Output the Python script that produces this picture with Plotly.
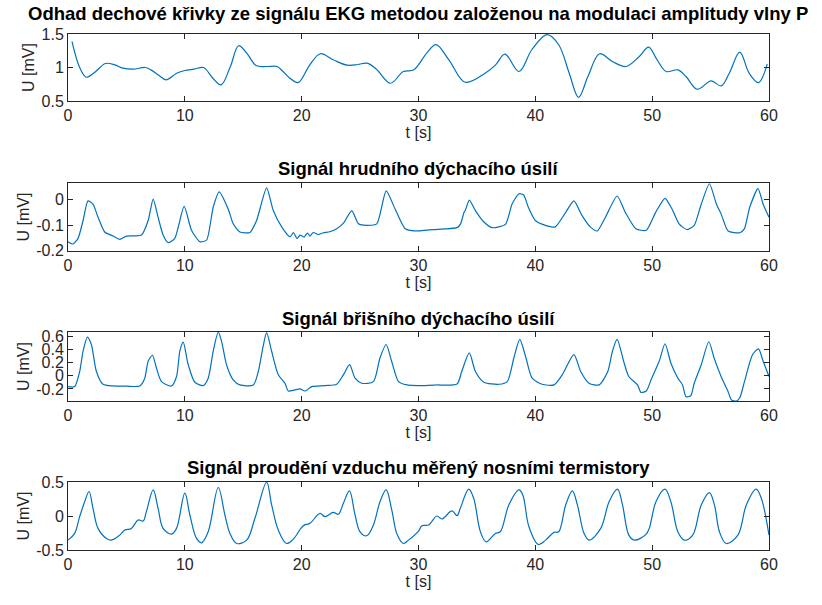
import plotly.graph_objects as go

# --- data -----------------------------------------------------------------
# Respiration estimate from ECG (P-wave amplitude modulation)
t_ekg = [0.34, 1.0, 1.57, 2.3, 3.2, 4.0, 4.7, 5.6, 6.6, 7.1, 7.8, 8.4, 9.3, 10.0, 10.8, 11.6,
         12.4, 13.1, 13.9, 14.6, 15.3, 16.1, 17.0, 17.9, 18.4, 19.0, 19.7, 20.7, 21.6, 22.7,
         23.9, 24.8, 25.6, 26.4, 27.6, 28.7, 29.6, 30.7, 31.5, 32.6, 34.0, 35.7, 36.6, 37.4,
         38.6, 39.7, 41.0, 42.0, 42.9, 43.7, 44.5, 45.5, 46.6, 47.75, 48.9, 49.7, 50.4, 51.2,
         52.2, 52.9, 53.85, 55.05, 55.9, 56.6, 57.5, 58.3, 59.1, 59.85]
u_ekg = [1.39, 1.0, 0.855, 0.93, 1.06, 1.04, 0.99, 0.975, 1.0, 0.965, 0.88, 0.815, 0.915, 0.955,
         0.975, 1.0, 0.84, 0.74, 1.015, 1.325, 1.215, 1.03, 1.015, 1.015, 0.94, 0.84, 0.775,
         1.04, 1.205, 1.115, 1.035, 1.045, 1.065, 0.975, 0.765, 0.94, 0.965, 1.215, 1.34, 1.115,
         0.78, 0.915, 1.04, 1.2, 0.94, 1.265, 1.49, 1.34, 0.915, 0.555, 0.865, 1.205, 1.09,
         1.015, 1.165, 1.305, 1.12, 0.94, 0.965, 0.865, 0.675, 0.8, 0.725, 0.915, 1.23, 0.915,
         0.775, 1.05]

# Thoracic respiratory effort
t_hrud = [0, 0.43, 0.86, 1.29, 1.71, 2.14, 2.57, 3.14, 3.86, 4.43, 5.0, 5.7, 6.29, 6.86, 7.29,
          7.71, 8.14, 8.57, 9.14, 9.94, 10.57, 11.29, 11.86, 12.43, 12.94, 13.71, 14.14, 14.71,
          15.57, 16.14, 17.0, 17.57, 18.29, 19.0, 19.3, 19.6, 19.86, 20.2, 20.5, 20.7, 21.0,
          21.4, 21.86, 22.4, 23.0, 23.6, 24.29, 24.86, 25.57, 26.43, 27.23, 28.0, 28.86, 30.0,
          31.1, 32.2, 33.3, 33.6, 33.9, 34.0, 34.35, 34.87, 35.6, 36.3, 37.44, 38.0, 38.6, 39.0,
          39.4, 40.0, 40.86, 41.7, 42.6, 43.3, 44.0, 44.7, 45.3, 46.0, 47.0, 47.7, 48.6, 49.5,
          50.3, 51.1, 51.7, 52.3, 53.0, 53.6, 54.2, 54.9, 55.5, 55.9, 56.5, 57.5, 57.9, 58.35,
          59.06, 59.5, 60.0]
u_hrud = [-0.164, -0.173, -0.151, -0.081, -0.004, -0.017, -0.068, -0.126, -0.142, -0.155,
          -0.142, -0.141, -0.138, -0.081, 0.003, -0.068, -0.138, -0.168, -0.151, -0.026,
          -0.119, -0.164, -0.158, -0.029, 0.031, -0.036, -0.094, -0.126, -0.128, -0.081,
          0.047, -0.042, -0.106, -0.145, -0.128, -0.152, -0.138, -0.146, -0.13, -0.142,
          -0.128, -0.136, -0.129, -0.125, -0.113, -0.09, -0.042, -0.094, -0.1, -0.094,
          0.035, -0.036, -0.113, -0.122, -0.117, -0.114, -0.109, -0.094, -0.049, -0.042,
          -0.001, -0.042, -0.087, -0.109, -0.096, -0.017, 0.024, 0.019, -0.029, -0.081,
          -0.1, -0.106, -0.049, -0.004, -0.062, -0.106, -0.122, -0.068, 0.015, -0.049,
          -0.113, -0.119, -0.049, 0.006, -0.036, -0.094, -0.117, -0.1, -0.017, 0.063,
          -0.017, -0.055, -0.122, -0.129, -0.113, -0.029, 0.044, -0.017, -0.068]

# Abdominal respiratory effort
t_bris = [0, 0.57, 1.0, 1.29, 1.66, 2.0, 2.43, 3.0, 3.86, 5.0, 6.14, 6.57, 6.86, 7.23, 7.57,
          8.0, 8.86, 9.29, 9.57, 9.86, 10.29, 10.86, 11.57, 12.0, 12.43, 12.86, 13.14, 13.57,
          14.14, 14.71, 15.86, 16.29, 16.7, 17.0, 17.43, 18.0, 18.57, 18.86, 19.4, 19.86,
          20.3, 20.86, 22.0, 23.0, 23.57, 24.1, 24.57, 25.14, 26.14, 26.7, 27.23, 27.7, 28.29,
          29.0, 30.0, 31.5, 33.3, 33.7, 34.35, 34.87, 35.6, 36.9, 37.6, 38.16, 38.67, 39.16,
          39.73, 40.57, 41.6, 42.3, 43.3, 43.88, 44.6, 45.46, 46.2, 46.6, 47.0, 47.6, 48.0,
          48.75, 49.04, 49.5, 49.9, 50.6, 51.1, 51.6, 52.2, 52.6, 52.9, 53.3, 53.6, 54.2,
          54.85, 55.3, 55.9, 56.5, 56.8, 57.2, 57.5, 57.9, 58.6, 59.1, 59.5, 60.0]
u_bris = [-0.165, -0.165, 0.067, 0.376, 0.593, 0.479, 0.067, -0.129, -0.155, -0.158, -0.155,
          -0.036, 0.222, 0.314, 0.119, -0.088, -0.155, -0.01, 0.376, 0.515, 0.17, -0.098,
          -0.149, -0.036, 0.376, 0.67, 0.531, 0.17, -0.062, -0.139, -0.139, 0.067, 0.45,
          0.66, 0.376, 0.015, -0.113, -0.232, -0.215, -0.201, -0.232, -0.165, -0.15, -0.129,
          0.015, 0.17, -0.036, -0.113, -0.088, 0.273, 0.479, 0.222, -0.088, -0.139, -0.149,
          -0.14, -0.124, 0.067, 0.35, 0.067, -0.098, -0.129, -0.088, 0.273, 0.557, 0.299,
          -0.036, -0.129, -0.139, 0.015, 0.325, 0.067, -0.113, -0.139, 0.067, 0.376, 0.557,
          0.196, -0.01, -0.139, -0.253, -0.232, -0.062, 0.222, 0.49, 0.196, -0.036, -0.139,
          -0.32, -0.304, -0.113, 0.17, 0.521, 0.273, -0.01, -0.242, -0.371, -0.385, -0.335,
          -0.088, 0.325, 0.412, 0.222, -0.01]

# Nasal airflow (thermistors)
t_term = [0, 0.57, 1.0, 1.43, 1.8, 2.14, 2.57, 3.29, 3.71, 4.43, 4.86, 5.43, 6.0, 6.43, 6.71,
          7.29, 7.71, 8.14, 8.86, 9.29, 10.0, 10.43, 11.0, 11.43, 12.0, 12.86, 13.43, 13.86,
          14.43, 15.29, 16.0, 17.0, 17.43, 18.0, 18.71, 19.29, 20.14, 20.71, 21.57, 22.0,
          22.71, 23.14, 23.57, 24.09, 24.57, 25.0, 25.57, 26.14, 26.71, 27.23, 27.71, 28.14,
          28.71, 29.14, 30.0, 30.29, 30.86, 31.57, 32.0, 32.86, 33.3, 33.58, 34.3, 34.72,
          35.3, 35.78, 36.58, 37.0, 37.73, 38.6, 38.93, 39.45, 40.25, 40.88, 41.6, 42.0, 42.6,
          43.17, 43.6, 44.17, 44.6, 45.6, 46.32, 47.03, 47.46, 48.0, 48.47, 49.47, 49.75,
          50.33, 51.1, 51.6, 52.2, 52.75, 53.47, 54.2, 54.9, 55.33, 55.76, 56.33, 57.34,
          58.06, 58.9, 59.34, 60.0]
u_term = [-0.355, -0.256, -0.01, 0.212, 0.36, 0.113, -0.182, -0.33, -0.355, -0.281, -0.207,
          -0.182, -0.059, -0.074, 0.064, 0.384, 0.113, -0.182, -0.266, -0.182, 0.335, 0.015,
          -0.33, -0.394, -0.232, 0.419, 0.015, -0.256, -0.404, -0.355, -0.034, 0.498, 0.163,
          -0.207, -0.404, -0.34, -0.143, -0.108, 0.039, -0.01, 0.054, 0.025, 0.187, 0.369,
          0.015, -0.232, -0.291, -0.133, 0.212, 0.384, 0.089, -0.256, -0.404, -0.355, -0.222,
          -0.143, -0.133, 0.0, -0.044, 0.074, 0.005, 0.113, 0.394, 0.261, -0.232, -0.379,
          -0.256, -0.232, 0.163, 0.384, 0.31, -0.158, -0.419, -0.355, -0.241, -0.232, 0.163,
          0.369, 0.163, -0.256, -0.355, -0.182, 0.212, 0.394, 0.163, -0.281, -0.355, -0.271,
          -0.182, 0.212, 0.394, 0.212, -0.232, -0.355, -0.281, 0.163, 0.345, 0.163, -0.232,
          -0.404, -0.281, 0.163, 0.394, 0.261, -0.281]

titles = [
    "Odhad dechové křivky ze signálu EKG metodou založenou na modulaci amplitudy vlny P",
    "Signál hrudního dýchacího úsilí",
    "Signál břišního dýchacího úsilí",
    "Signál proudění vzduchu měřený nosními termistory",
]
x_ticks = [0, 10, 20, 30, 40, 50, 60]
y_ticks = [
    [0.5, 1, 1.5],
    [-0.2, -0.1, 0],
    [-0.2, 0, 0.2, 0.4, 0.6],
    [-0.5, 0, 0.5],
]
y_ranges = [[0.5, 1.5], [-0.2005, 0.066], [-0.385, 0.67], [-0.5, 0.5]]
series = [(t_ekg, u_ekg), (t_hrud, u_hrud), (t_bris, u_bris), (t_term, u_term)]
smooth = [1.0, 0.6, 0.7, 1.0]

# --- layout ---------------------------------------------------------------
W, H = 822, 605
FONT = "Liberation Sans, Arial, Helvetica, sans-serif"
AX = "#262626"
LINE = "#0072BD"

x_dom = [68 / W, 769 / W]
# pixel top/bottom of each axes box
boxes = [(34, 101), (183, 251), (332, 401), (482, 550)]
title_y = [14, 168, 318, 467]

fig = go.Figure()
layout = dict(
    width=W, height=H,
    margin=dict(l=0, r=0, t=0, b=0),
    paper_bgcolor="white", plot_bgcolor="white",
    showlegend=False,
    font=dict(family=FONT, color=AX),
)
annotations = []

for i, ((t, u), (top, bot)) in enumerate(zip(series, boxes)):
    n = "" if i == 0 else str(i + 1)
    fig.add_trace(go.Scatter(
        x=t, y=u, mode="lines",
        line=dict(color=LINE, width=1.2, shape="spline", smoothing=smooth[i]),
        xaxis="x" + n, yaxis="y" + n, hoverinfo="skip",
    ))
    common = dict(
        showline=True, linecolor=AX, linewidth=1, mirror="ticks",
        ticks="inside", ticklen=5, tickcolor=AX, tickwidth=1,
        showgrid=False, zeroline=False,
        tickfont=dict(family=FONT, size=16, color=AX),
        automargin=False,
    )
    layout["xaxis" + n] = dict(
        common, domain=x_dom, anchor="y" + n, range=[0, 60],
        tickvals=x_ticks,
        title=dict(text="t [s]", font=dict(family=FONT, size=16, color=AX), standoff=0),
    )
    layout["yaxis" + n] = dict(
        common, domain=[1 - bot / H, 1 - top / H], anchor="x" + n,
        range=y_ranges[i], tickvals=y_ticks[i],
        ticktext=[f"{v:g}" for v in y_ticks[i]],
        title=dict(text="U [mV]", font=dict(family=FONT, size=16, color=AX), standoff=2),
    )
    annotations.append(dict(
        text="<b>" + titles[i] + "</b>", xref="paper", yref="paper",
        x=(x_dom[0] + x_dom[1]) / 2, y=1 - title_y[i] / H,
        xanchor="center", yanchor="middle", showarrow=False,
        font=dict(family=FONT, size=18.5, color="#000000"),
    ))

layout["annotations"] = annotations
fig.update_layout(**layout)
fig.write_html("out.html")
